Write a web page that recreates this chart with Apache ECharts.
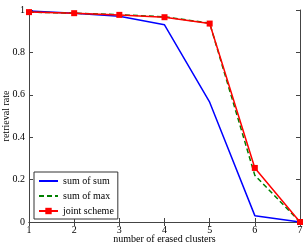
<!DOCTYPE html>
<html><head><meta charset="utf-8">
<script src="https://cdn.jsdelivr.net/npm/echarts@6/dist/echarts.min.js"></script>
<style>html,body{margin:0;padding:0;background:#fff}#c{width:307px;height:246px}</style>
</head><body><div id="c"></div>
<script>
const categories = [1, 2, 3, 4, 5, 6, 7];
const sumOfSum = [0.995, 0.985, 0.97, 0.93, 0.565, 0.03, 0.0];
const sumOfMax = [0.99, 0.985, 0.978, 0.968, 0.938, 0.22, 0.0];
const jointScheme = [0.99, 0.985, 0.977, 0.966, 0.936, 0.255, 0.0];
const yTicks = [0, 0.2, 0.4, 0.6, 0.8, 1];

const font = 'Liberation Serif';
const axisCol = '#444';
function pairs(v){ return categories.map((x,i)=>[x, v[i]]); }
const chart = echarts.init(document.getElementById('c'));
const baseX = {type:'value', min:1, max:7, interval:1,
  axisLine:{lineStyle:{color:axisCol,width:1}}, splitLine:{show:false},
  axisTick:{inside:true,length:4,lineStyle:{color:axisCol}}};
const baseY = {type:'value', min:0, max:1, interval:0.2,
  axisLine:{show:true,lineStyle:{color:axisCol,width:1}}, splitLine:{show:false},
  axisTick:{show:true,inside:true,length:4,lineStyle:{color:axisCol}}};
const hideSym = {color:'rgba(0,0,0,0)', borderWidth:0, opacity:0};
chart.setOption({
  animation:false,
  textStyle:{fontFamily:font},
  grid:{left:29, right:7, top:10, bottom:24, containLabel:false, outerBoundsMode:'none'},
  xAxis:[
    Object.assign({}, baseX, {position:'bottom', name:'number of erased clusters', nameLocation:'middle', nameGap:12,
      nameMoveOverlap:false,
      nameTextStyle:{fontFamily:font,fontSize:10,color:'#000'},
      axisLabel:{fontFamily:font,fontSize:10,color:'#000',margin:3}}),
    Object.assign({}, baseX, {position:'top', axisLabel:{show:false}})
  ],
  yAxis:[
    Object.assign({}, baseY, {position:'left', name:'retrieval rate', nameLocation:'middle', nameGap:18,
      nameMoveOverlap:false,
      nameTextStyle:{fontFamily:font,fontSize:10,color:'#000'},
      axisLabel:{fontFamily:font,fontSize:10,color:'#000',margin:4,
        formatter:v=>yTicks.includes(+v.toFixed(1)) ? String(+v.toFixed(1)) : ''}}),
    Object.assign({}, baseY, {position:'right', axisLabel:{show:false}})
  ],
  legend:{
    left:34, top:172, orient:'vertical', itemGap:5, itemWidth:19, itemHeight:8,
    backgroundColor:'#fff', borderColor:'#333', borderWidth:1, padding:[4,4,3,4],
    textStyle:{fontFamily:font,fontSize:10,color:'#000'},
    data:[{name:'sum of sum', itemStyle:hideSym},{name:'sum of max', itemStyle:hideSym},'joint scheme']
  },
  series:[
    {name:'sum of sum', type:'line', data:pairs(sumOfSum), symbol:'none',
      lineStyle:{color:'#0000ff',width:1.5}, itemStyle:{color:'#0000ff'}, z:2},
    {name:'sum of max', type:'line', data:pairs(sumOfMax), symbol:'none',
      lineStyle:{color:'#008000',width:1.5,type:[5,3]}, itemStyle:{color:'#008000'}, z:3},
    {name:'joint scheme', type:'line', data:pairs(jointScheme), symbol:'rect', symbolSize:6,
      lineStyle:{color:'#ff0000',width:1.5}, itemStyle:{color:'#ff0000'}, z:4}
  ]
});
</script></body></html>
